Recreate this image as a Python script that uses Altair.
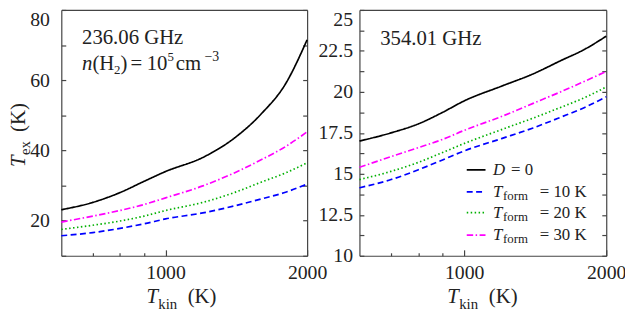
import altair as alt
import pandas as pd

# ---------------- data ----------------
t_kin = [600, 700, 800, 900, 1000, 1200, 1400, 1600, 1800, 2000]
series_names = ["D = 0", "T_form = 10 K", "T_form = 20 K", "T_form = 30 K"]

# 236.06 GHz panel
left_d0 = [23.1, 25.2, 28.0, 31.2, 34.0, 38.0, 43.5, 50.5, 59.0, 71.5]
left_t10 = [15.7, 16.6, 17.8, 19.1, 20.5, 22.2, 24.2, 26.2, 28.1, 30.4]
left_t20 = [17.5, 18.7, 19.9, 21.3, 22.9, 25.2, 28.0, 31.0, 33.6, 36.5]
left_t30 = [19.6, 21.3, 22.9, 24.6, 26.5, 29.9, 33.6, 37.4, 41.1, 45.3]

# 354.01 GHz panel
right_d0 = [17.0, 17.5, 18.05, 18.75, 19.45, 20.35, 21.1, 21.9, 22.6, 23.4]
right_t10 = [14.15, 14.65, 15.25, 15.85, 16.4, 17.15, 17.8, 18.45, 19.05, 19.7]
right_t20 = [14.65, 15.15, 15.7, 16.3, 16.85, 17.7, 18.4, 19.05, 19.65, 20.3]
right_t30 = [15.4, 16.05, 16.6, 17.1, 17.65, 18.5, 19.3, 20.0, 20.65, 21.25]

x_ticks_major = [1000, 2000]
x_ticks_minor = [700, 800, 900, 1000, 2000]
left_y_labels = [20, 40, 60, 80]
left_y_ticks = [10, 20, 30, 40, 50, 60, 70, 80]
right_y_labels = [10, 12.5, 15, 17.5, 20, 22.5, 25]
right_y_ticks = [10, 11.25, 12.5, 13.75, 15, 16.25, 17.5, 18.75, 20, 21.25, 22.5, 23.75, 25]

# ---------------- styles ----------------
FONT = "Liberation Serif"
TXT = "#222222"
FRAME = "#444444"
colors = ["#000000", "#0000ff", "#00b000", "#ff00ff"]
dashes = [[1, 0], [6, 3.5], [1.5, 2.5], [6.5, 2.5, 1.5, 2.5]]

W = 552
H = 249


def long_df(vals):
    rows = []
    for name, ys in zip(series_names, vals):
        for x, y in zip(t_kin, ys):
            rows.append({"tkin": x, "tex": y, "series": name})
    return pd.DataFrame(rows)


def panel(df, x0, x1, ydom, ylabels, yticks, ypad, topval):
    xs = alt.Scale(type="log", domain=[600, 2000], range=[x0, x1], nice=False)
    ys = alt.Scale(domain=ydom, nice=False, zero=False)
    color = alt.Color("series:N", scale=alt.Scale(domain=series_names, range=colors), legend=None)
    dash = alt.StrokeDash("series:N", scale=alt.Scale(domain=series_names, range=dashes), legend=None)

    lines = alt.Chart(df).mark_line(strokeWidth=1.7, interpolate="monotone").encode(
        x=alt.X("tkin:Q", scale=xs, axis=alt.Axis(
            orient="bottom", values=x_ticks_major, labelExpr="'' + datum.value",
            ticks=False, tickSize=0,
            domain=True, domainColor=FRAME, domainWidth=1.2, labelPadding=7.5,
            labelFont=FONT, labelFontSize=20, labelColor=TXT, labelFlush=False,
            grid=False, title=None)),
        y=alt.Y("tex:Q", scale=ys, axis=alt.Axis(
            orient="left", offset=-x0, values=ylabels, labelExpr="'' + datum.value",
            ticks=False, tickSize=0,
            domain=True, domainColor=FRAME, domainWidth=1.2, labelPadding=ypad,
            labelFont=FONT, labelFontSize=20, labelColor=TXT, labelFlush=False,
            labelBaseline={"condition": {"test": "datum.value == %s" % topval, "value": "top"},
                           "value": "middle"},
            grid=False, title=None)),
        color=color,
        strokeDash=dash,
        detail="series:N",
    )

    ticks_a = alt.Chart(df).mark_line(opacity=0).encode(
        x=alt.X("tkin:Q", axis=alt.Axis(
            orient="top", offset=-H, values=x_ticks_minor, labels=False, domain=False,
            tickColor=FRAME, tickWidth=1.2,
            tickSize={"condition": {"test": "datum.value >= 1000", "value": 6}, "value": 3},
            grid=False, title=None)),
        y=alt.Y("tex:Q", axis=alt.Axis(
            orient="right", offset=x0 - W, values=yticks, labels=False, domain=False,
            tickColor=FRAME, tickWidth=1.2, tickSize=4.5, grid=False, title=None)),
        detail="series:N",
    )

    ticks_b = alt.Chart(df).mark_line(opacity=0).encode(
        x=alt.X("tkin:Q", axis=alt.Axis(
            orient="top", offset=0, values=x_ticks_major, labels=False, ticks=False, tickSize=0,
            domain=True, domainColor=FRAME, domainWidth=1.2, grid=False, title=None)),
        y=alt.Y("tex:Q", axis=alt.Axis(
            orient="left", offset=-x1, values=yticks, labels=False, domain=True,
            domainColor=FRAME, domainWidth=1.2, tickColor=FRAME, tickWidth=1.2,
            tickSize=4.5, grid=False, title=None)),
        detail="series:N",
    )
    return alt.layer(lines, ticks_a, ticks_b).resolve_axis(x="independent", y="independent")


one = pd.DataFrame({"k": [0]})


def txt(s, x, y, size, italic=False, angle=0):
    kw = dict(text=s, align="left", baseline="alphabetic", font=FONT, fontSize=size, color=TXT)
    if italic:
        kw["fontStyle"] = "italic"
    if angle:
        kw["angle"] = angle
    return alt.Chart(one).mark_text(**kw).encode(x=alt.value(x), y=alt.value(y))


def rule(x0, x1, y, c, d):
    return alt.Chart(one).mark_rule(strokeWidth=1.7, strokeDash=d, color=c).encode(
        x=alt.value(x0), x2=alt.value(x1), y=alt.value(y))


left = panel(long_df([left_d0, left_t10, left_t20, left_t30]), 0, 249, [10, 80],
             left_y_labels, left_y_ticks, 12, 80)
right = panel(long_df([right_d0, right_t10, right_t20, right_t30]), 302, W, [10, 25],
              right_y_labels, right_y_ticks, 7, 25)

texts = [
    # left annotation
    txt("236.06 GHz", 21, 34.7, 21),
    txt("n", 21, 60.7, 21, italic=True),
    txt("(H", 31.5, 60.7, 21),
    txt("2", 53.5, 64.7, 13),
    txt(")", 60, 60.7, 21),
    txt("=", 70, 60.7, 21),
    txt("10", 86.5, 60.7, 21),
    txt("5", 107.5, 51.5, 13),
    txt("cm", 116, 60.7, 21),
    txt("\u22123", 145, 51.5, 14),
    # right annotation
    txt("354.01 GHz", 323, 36, 21),
    # x titles
    txt("T", 86.3, 297, 21, italic=True),
    txt("kin", 98.3, 302.5, 15),
    txt("(K)", 128, 297, 21),
    txt("T", 391, 297, 21, italic=True),
    txt("kin", 403, 302.5, 15),
    txt("(K)", 433, 297, 21),
    # y title
    txt("T", -37, 159, 21, italic=True, angle=270),
    txt("ex", -32, 147, 15, angle=270),
    txt("(K)", -37, 123.5, 21, angle=270),
]

rows_y = [162, 184.3, 205.3, 228]
legend = []
for i, ry in enumerate(rows_y):
    legend.append(rule(410.7, 429.7, ry, colors[i], dashes[i]))
legend.append(txt("D", 437.3, rows_y[0] + 5, 17, italic=True))
legend.append(txt("= 0", 455.5, rows_y[0] + 5, 17))
for i, lab in zip([1, 2, 3], ["10", "20", "30"]):
    ry = rows_y[i]
    legend.append(txt("T", 437.3, ry + 5, 17, italic=True))
    legend.append(txt("form", 447.5, ry + 8.5, 13))
    legend.append(txt("= %s K" % lab, 484.7, ry + 5, 17))

chart = alt.layer(left, right, *texts, *legend).resolve_scale(
    x="independent", y="independent"
).properties(
    width=W, height=H,
    padding={"left": 54, "top": 0, "right": 19, "bottom": 57},
    autosize=alt.AutoSizeParams(type="none"),
).configure_view(stroke="transparent")

chart.save("out.html", embed_options={"renderer": "svg", "actions": False})
